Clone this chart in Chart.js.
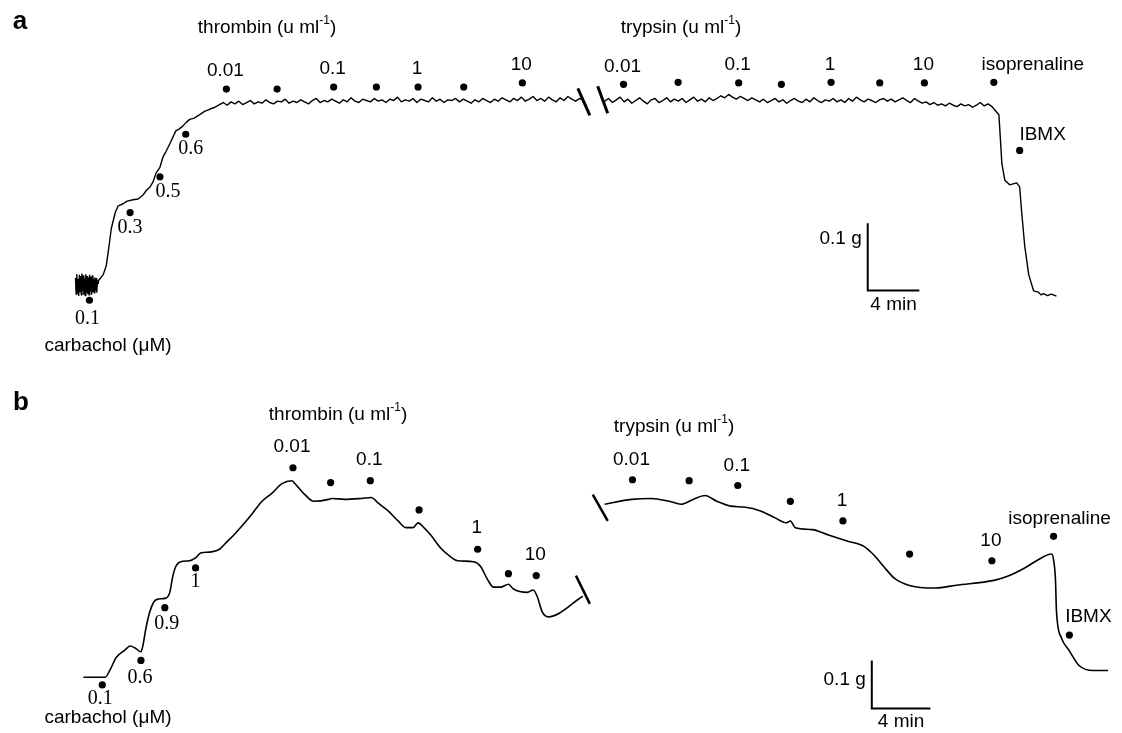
<!DOCTYPE html>
<html lang="en">
<head>
    <meta charset="UTF-8">
    <title>Carbachol, thrombin and trypsin traces</title>
    <script src="https://cdn.jsdelivr.net/npm/chart.js"></script>
    <style>
        body {
            margin: 0;
            background: white;
        }
        .wrap {
            position: relative;
            width: 1122px;
            height: 733px;
        }
        canvas {
            position: absolute;
            left: 0;
        }
        #panelA { top: 0; }
        #panelB { top: 365px; }
    </style>
</head>
<body>
<div class="wrap">
    <canvas id="panelA" width="1122" height="365"></canvas>
    <canvas id="panelB" width="1122" height="368"></canvas>
</div>
<script>
    // ---- panel a : time in min, tension in mg above the starting tone ----
    // basal tone, sampled every 0.05 min from t = 0
    const aBasal = [10, -14, 15, -12, 8, -16, 14, -10, 12, -15, 16, -8, 13, -14, 9, -16, 15, -11,
        12, -13, 10, -15, 14, -9, 11, -14, 13, -10, 8, -12, 10, -8, 9, -11, 6, 2];
    // carbachol steps [min, mg]
    const aRise = [[1.77, 6], [2.15, 15], [2.38, 28], [2.54, 49], [2.77, 83], [3.08, 107], [3.31, 117],
        [3.69, 120], [4.0, 124], [4.46, 126], [4.85, 127], [5.23, 133], [5.5, 140], [5.77, 145],
        [6.0, 152], [6.23, 165], [6.54, 174], [6.77, 189], [7.0, 197], [7.31, 209], [7.77, 228],
        [8.05, 231], [8.31, 235], [8.6, 241], [8.85, 245], [9.2, 247], [9.62, 252], [10.0, 257],
        [10.38, 260], [10.8, 263]];
    // thrombin plateau, sampled every 0.3 min from t = 11.15
    const aThrombin = [267, 270, 266, 271, 268, 272, 267, 270, 273, 268, 271, 269, 274, 270, 268, 272, 271, 275, 269, 272,
        270, 274, 271, 268, 273, 276, 270, 273, 271, 275, 272, 269, 274, 271, 277, 272, 270, 275, 273, 271,
        276, 272, 274, 270, 275, 273, 278, 271, 274, 272, 276, 270, 275, 273, 271, 277, 272, 275, 270, 274,
        273, 276, 271, 275, 272, 269, 274, 271, 276, 273, 270, 275, 272, 277, 274, 271, 276, 273, 278, 272,
        275, 279, 273, 276, 272, 278, 274, 271, 277, 273, 279, 275, 272, 276, 274];
    // trypsin plateau, sampled every 0.3 min from t = 41.0
    const aTrypsin = [272, 276, 270, 274, 278, 271, 275, 269, 273, 277, 272, 268, 274, 276, 270, 273, 277, 271, 275, 272,
        276, 270, 274, 278, 272, 275, 271, 277, 273, 276, 280, 277, 282, 278, 275, 279, 276, 273, 277, 274,
        271, 275, 270, 273, 276, 271, 274, 269, 273, 276, 272, 270, 275, 271, 277, 273, 270, 274, 272, 276,
        271, 274, 270, 276, 272, 278, 274, 271, 275, 273, 270, 274, 276, 272, 275, 271, 274, 277, 273, 270,
        276, 272, 269, 271, 267, 270, 266, 268, 265, 269, 266, 264, 268, 265, 267, 263, 266, 270, 265, 268, 264];
    // isoprenaline then IBMX relaxation [min, mg]
    const aRelax = [[71.54, 252], [71.62, 228], [71.77, 180], [72.0, 155], [72.38, 148], [72.92, 151],
        [73.15, 145], [73.31, 107], [73.54, 58], [73.85, 15], [74.23, -9], [74.6, -11], [74.8, -15],
        [75.0, -13], [75.3, -16], [75.6, -14], [76.0, -17]];

    const aCarbT = [1.08, 4.23, 6.54, 8.54];
    const aCarbMg = [-23, 107, 160, 223];
    const aCarbDose = ['0.1', '0.3', '0.5', '0.6'];
    const aThrT = [11.69, 15.62, 20.0, 23.31, 26.54, 30.08, 34.62];
    const aThrMg = [290, 290, 293, 293, 293, 293, 299];
    const aTryT = [42.46, 46.69, 51.38, 54.69, 58.54, 62.31, 65.77];
    const aTryMg = [297, 300, 299, 297, 300, 299, 299];
    const aIso = [71.15, 300];
    const aIbmx = [73.15, 199];

    // ---- panel b ----
    const bTrace1 = [[0, 0], [1.49, 0], [1.83, 16], [2.24, 41], [2.85, 57], [3.19, 65], [3.53, 61], [3.93, 53],
        [4.07, 67], [4.27, 102], [4.54, 137], [4.81, 157], [5.08, 163], [5.63, 165], [5.90, 177], [6.10, 210],
        [6.31, 231], [6.64, 241], [7.25, 243], [7.66, 249], [8.0, 259], [8.61, 261], [9.29, 267], [9.69, 279],
        [10.37, 300], [11.32, 333], [12.20, 367], [12.88, 384], [13.56, 404], [14.24, 410], [14.44, 404],
        [15.12, 381], [15.73, 367], [16.75, 371], [16.95, 373], [17.83, 371], [18.98, 373], [19.66, 375],
        [20.14, 363], [20.81, 347], [21.49, 326], [22.03, 312], [22.51, 312], [22.85, 322], [23.25, 312],
        [23.73, 296], [24.41, 269], [25.08, 251], [25.56, 243], [26.64, 241], [27.12, 231], [27.59, 204],
        [28.0, 188], [28.47, 188], [29.02, 194], [29.36, 184], [30.31, 177], [30.71, 182], [30.98, 169],
        [31.32, 137], [31.73, 126], [34.10, 169]];
    const bTrace2 = [[35.59, 361], [37.42, 371], [38.78, 373], [40.0, 367], [40.81, 361], [41.63, 371],
        [42.44, 379], [43.25, 367], [44.20, 357], [45.08, 355], [46.24, 347], [47.19, 333], [48.0, 322],
        [48.27, 326], [48.61, 312], [49.76, 308], [50.92, 296], [52.14, 284], [53.29, 273], [53.97, 255],
        [54.64, 231], [55.39, 206], [56.34, 192], [58.17, 186], [59.59, 192], [62.17, 202], [63.05, 210],
        [64.27, 228], [65.08, 243], [66.10, 257], [66.24, 245], [66.37, 204], [66.44, 137], [66.78, 82],
        [67.32, 55], [68.0, 24], [68.95, 14], [69.97, 14]];

    const bCarbT = [1.29, 3.93, 5.56, 7.66];
    const bCarbMg = [-16, 35, 145, 228];
    const bCarbDose = ['0.1', '0.6', '0.9', '1'];
    const bThrT = [14.31, 16.88, 19.59, 22.92, 26.92, 29.02, 30.92];
    const bThrMg = [437, 406, 410, 349, 267, 216, 212];
    const bTryT = [37.49, 41.36, 44.68, 48.27, 51.86, 56.41, 62.03];
    const bTryMg = [412, 410, 400, 367, 326, 257, 243];
    const bIso = [66.24, 294];
    const bIbmx = [67.32, 88];

    const enzymeDose = ['0.01', '', '0.1', '', '1', '', '10'];

    const sansFont = '19px "Liberation Sans", Arial, sans-serif';
    const supFont = '12px "Liberation Sans", Arial, sans-serif';
    const serifFont = '20px "Liberation Serif", "Times New Roman", serif';
    const boldFont = 'bold 26px "Liberation Sans", Arial, sans-serif';

    function pairs(arr) {
        return arr.map(p => ({ x: p[0], y: p[1] }));
    }
    function sampled(values, t0, dt) {
        return values.map((v, i) => ({ x: t0 + i * dt, y: v }));
    }
    function zip(ts, ys) {
        return ts.map((t, i) => ({ x: t, y: ys[i] }));
    }

    function text(ctx, s, x, y, font, align) {
        ctx.font = font;
        ctx.textAlign = align || 'center';
        ctx.textBaseline = 'middle';
        ctx.fillStyle = '#000';
        ctx.fillText(s, x, y);
    }

    // "name (u ml-1)" with the -1 raised
    function unitsLabel(ctx, name, cx, cy) {
        const head = name + ' (u ml', sup = '-1', tail = ')';
        ctx.font = sansFont;
        const wh = ctx.measureText(head).width;
        const wt = ctx.measureText(tail).width;
        ctx.font = supFont;
        const ws = ctx.measureText(sup).width;
        let x = cx - (wh + ws + wt) / 2;
        text(ctx, head, x, cy, sansFont, 'left');
        text(ctx, sup, x + wh, cy - 7, supFont, 'left');
        text(ctx, tail, x + wh + ws, cy, sansFont, 'left');
    }

    // jagged recorder trace (panel a) or smooth one (panel b)
    function traceSet(data, smooth, w) {
        return {
            data: data, showLine: true, borderColor: '#000', borderWidth: w,
            pointRadius: 0, tension: 0, fill: false,
            cubicInterpolationMode: smooth ? 'monotone' : 'default',
            borderJoinStyle: 'round'
        };
    }
    function dotSet(data) {
        return { data: data, showLine: false, pointRadius: 3.6, pointBackgroundColor: '#000', pointBorderWidth: 0 };
    }
    function strokeSet(data, w) {
        return { data: data, showLine: true, borderColor: '#000', borderWidth: w, pointRadius: 0, tension: 0 };
    }

    function makePanel(id, xr, yr, datasets, draw) {
        return new Chart(document.getElementById(id), {
            type: 'scatter',
            data: { datasets: datasets },
            options: {
                responsive: false,
                animation: false,
                devicePixelRatio: 1,
                layout: { padding: 0 },
                plugins: { legend: { display: false }, tooltip: { enabled: false } },
                scales: {
                    x: { type: 'linear', display: false, min: xr[0], max: xr[1] },
                    y: { type: 'linear', display: false, min: yr[0], max: yr[1] }
                }
            },
            plugins: [{ id: 'labels', afterDraw: chart => draw(chart, chart.ctx) }]
        });
    }

    function px(chart, t, mg) {
        return [chart.scales.x.getPixelForValue(t), chart.scales.y.getPixelForValue(mg)];
    }

    function doseLabels(chart, ctx, ts, ys, labels, dy) {
        ts.forEach((t, i) => {
            if (!labels[i]) return;
            const p = px(chart, t, ys[i]);
            text(ctx, labels[i], p[0] - 1, p[1] + dy, sansFont);
        });
    }

    // panel a
    const aScale = [61.38, -8.7];
    makePanel('panelA', [-5.54, 80.77], [-113, 416], [
        traceSet(sampled(aBasal, 0, 0.05).concat(pairs(aRise), sampled(aThrombin, 11.15, 0.3)), false, 1.4),
        traceSet(sampled(aTrypsin, 41.0, 0.3).concat(pairs(aRelax)), false, 1.4),
        dotSet(zip(aCarbT, aCarbMg).concat(zip(aThrT, aThrMg), zip(aTryT, aTryMg),
            [{ x: aIso[0], y: aIso[1] }, { x: aIbmx[0], y: aIbmx[1] }])),
        strokeSet([{ x: 38.92, y: 291 }, { x: 39.85, y: 251 }], 3),
        strokeSet([{ x: 40.46, y: 294 }, { x: 41.23, y: 254 }], 3),
        strokeSet([{ x: aScale[0], y: aScale[1] + 100 }, { x: aScale[0], y: aScale[1] },
            { x: aScale[0] + 4, y: aScale[1] }], 2)
    ], (chart, ctx) => {
        text(ctx, 'a', 20, 22, boldFont);
        unitsLabel(ctx, 'thrombin', 267, 28);
        unitsLabel(ctx, 'trypsin', 681, 28);
        doseLabels(chart, ctx, aThrT, aThrMg, enzymeDose, -18);
        doseLabels(chart, ctx, aTryT, aTryMg, enzymeDose, -18);
        const offs = [[-2, 18], [0, 15], [8, 15], [5, 15]];
        aCarbT.forEach((t, i) => {
            const p = px(chart, t, aCarbMg[i]);
            text(ctx, aCarbDose[i], p[0] + offs[i][0], p[1] + offs[i][1], serifFont);
        });
        text(ctx, 'carbachol (\u03bcM)', 108, 346, sansFont);
        let p = px(chart, aIso[0], aIso[1]);
        text(ctx, 'isoprenaline', p[0] + 39, p[1] - 18, sansFont);
        p = px(chart, aIbmx[0], aIbmx[1]);
        text(ctx, 'IBMX', p[0] + 23, p[1] - 16, sansFont);
        const s0 = px(chart, aScale[0], aScale[1] + 100), s1 = px(chart, aScale[0] + 4, aScale[1]);
        text(ctx, '0.1 g', s0[0] - 6, s0[1] + 16, sansFont, 'right');
        text(ctx, '4 min', (s0[0] + s1[0]) / 2, s1[1] + 14, sansFont);
    });

    // panel b
    const bScale = [53.83, -65];
    makePanel('panelB', [-5.42, 70.64], [-108, 643], [
        traceSet(pairs(bTrace1), true, 1.6),
        traceSet(pairs(bTrace2), true, 1.6),
        dotSet(zip(bCarbT, bCarbMg).concat(zip(bThrT, bThrMg), zip(bTryT, bTryMg),
            [{ x: bIso[0], y: bIso[1] }, { x: bIbmx[0], y: bIbmx[1] }])),
        strokeSet([{ x: 33.63, y: 212 }, { x: 34.58, y: 153 }], 2.5),
        strokeSet([{ x: 34.78, y: 381 }, { x: 35.80, y: 326 }], 2.5),
        strokeSet([{ x: bScale[0], y: bScale[1] + 100 }, { x: bScale[0], y: bScale[1] },
            { x: bScale[0] + 4, y: bScale[1] }], 2)
    ], (chart, ctx) => {
        text(ctx, 'b', 21, 38, boldFont);
        unitsLabel(ctx, 'thrombin', 338, 50);
        unitsLabel(ctx, 'trypsin', 674, 62);
        doseLabels(chart, ctx, bThrT, bThrMg, enzymeDose, -21);
        doseLabels(chart, ctx, bTryT, bTryMg, enzymeDose, -20);
        const offs = [[-2, 14], [-1, 17], [2, 16], [0, 14]];
        bCarbT.forEach((t, i) => {
            const p = px(chart, t, bCarbMg[i]);
            text(ctx, bCarbDose[i], p[0] + offs[i][0], p[1] + offs[i][1], serifFont);
        });
        text(ctx, 'carbachol (\u03bcM)', 108, 353, sansFont);
        let p = px(chart, bIso[0], bIso[1]);
        text(ctx, 'isoprenaline', p[0] + 6, p[1] - 18, sansFont);
        p = px(chart, bIbmx[0], bIbmx[1]);
        text(ctx, 'IBMX', p[0] + 19, p[1] - 18, sansFont);
        const s0 = px(chart, bScale[0], bScale[1] + 100), s1 = px(chart, bScale[0] + 4, bScale[1]);
        text(ctx, '0.1 g', s0[0] - 6, s0[1] + 19, sansFont, 'right');
        text(ctx, '4 min', (s0[0] + s1[0]) / 2, s1[1] + 13, sansFont);
    });
</script>
</body>
</html>
